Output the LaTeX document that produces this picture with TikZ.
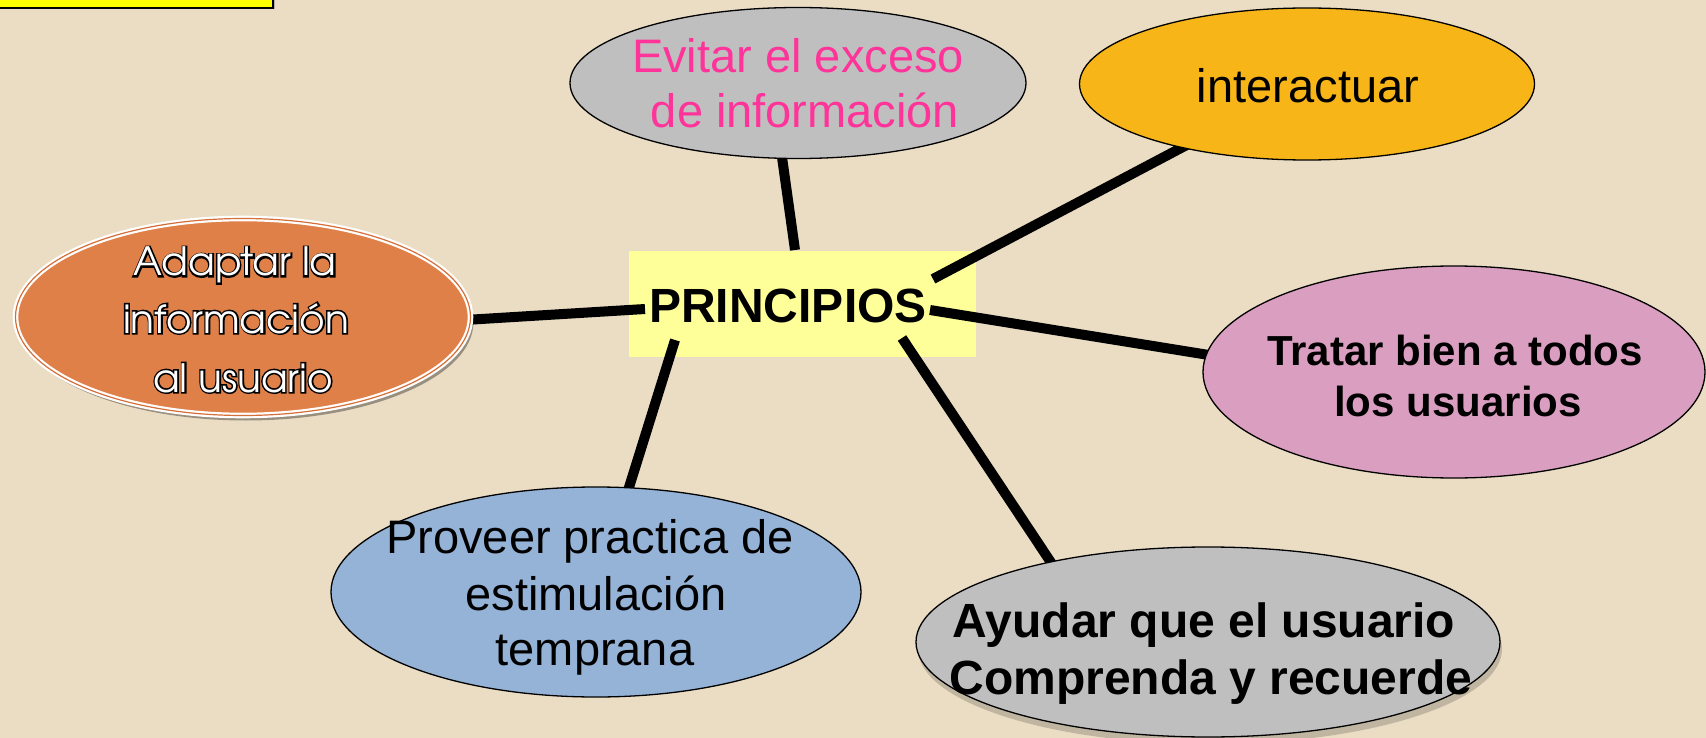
\documentclass[tikz,border=0pt]{standalone}
\usepackage{fontspec}
\setmainfont{Liberation Sans}
\newfontfamily\advfont{TeX Gyre Adventor}
\usetikzlibrary{shapes.geometric,shadows}
\definecolor{bg}{RGB}{234,221,196}
\definecolor{evgray}{RGB}{191,191,191}
\definecolor{evpink}{RGB}{255,51,153}
\definecolor{intorange}{RGB}{247,181,24}
\definecolor{adorange}{RGB}{223,128,72}
\definecolor{adline}{RGB}{214,110,55}
\definecolor{boxyellow}{RGB}{255,255,153}
\definecolor{trpink}{RGB}{218,159,192}
\definecolor{prblue}{RGB}{149,179,215}
\definecolor{topyellow}{RGB}{255,255,0}
\newcommand\outltext[1]{\rlap{\special{pdf:literal direct 1 Tr 3 w 0 0 0 RG}#1\special{pdf:literal direct 0 Tr}}#1}
\begin{document}
\begin{tikzpicture}[x=1pt,y=-1pt,
  bubble/.style={ellipse, draw=black, line width=1.3pt, inner sep=0pt},
  conn/.style={line width=10pt, black},
  lbl/.style={anchor=base, inner sep=0pt, font=\fontsize{47}{47}\selectfont},
  blbl/.style={anchor=base, inner sep=0pt, font=\fontsize{48}{48}\selectfont\bfseries},
  tlbl/.style={anchor=base, inner sep=0pt, font=\fontsize{42}{42}\selectfont\bfseries},
  adl/.style={anchor=base, inner sep=0pt, text=white, font=\advfont\fontsize{39}{39}\selectfont}]
\useasboundingbox (0,0) rectangle (1706,738);
\clip (0,0) rectangle (1706,738);
\fill[bg] (0,0) rectangle (1706,738);

% top-left yellow box
\node[draw=black, line width=1.5pt, fill=topyellow, minimum width=280pt, minimum height=60pt, inner sep=0pt,
      drop shadow={shadow xshift=1.5pt, shadow yshift=-1.5pt, opacity=0.5}] (topbox) at (133,-22) {};

% central box
\node[fill=boxyellow, minimum width=347pt, minimum height=106pt, inner sep=0pt] (princ) at (802.5,304) {};

% connector end coordinates
\coordinate (cE1) at (795,250);
\coordinate (cE2) at (781,150);
\coordinate (cI1) at (933,279);
\coordinate (cI2) at (1200,138);
\coordinate (cA1) at (645,309);
\coordinate (cA2) at (465,320);
\coordinate (cT1) at (930,310);
\coordinate (cT2) at (1215,356);
\coordinate (cP1) at (675,340);
\coordinate (cP2) at (626,497);
\coordinate (cY1) at (902,338);
\coordinate (cY2) at (1058,573);
\draw[conn] (cE1) -- (cE2);
\draw[conn] (cI1) -- (cI2);
\draw[conn] (cA1) -- (cA2);
\draw[conn] (cT1) -- (cT2);
\draw[conn] (cP1) -- (cP2);
\draw[conn] (cY1) -- (cY2);

% bubbles
\node[bubble, fill=evgray, minimum width=456pt, minimum height=151pt] (evitar) at (798,83) {};
\node[bubble, fill=intorange, minimum width=455pt, minimum height=152pt] (inter) at (1307,84) {};
\node[ellipse, inner sep=0pt, fill=adorange, draw=white, line width=2.2pt, double=adline, double distance=1.2pt,
      minimum width=455pt, minimum height=197pt,
      drop shadow={shadow xshift=3pt, shadow yshift=-5pt, opacity=0.35, fill=black}] (adapt) at (243,317) {};
\node[bubble, fill=trpink, minimum width=502pt, minimum height=212pt] (tratar) at (1454,372) {};
\node[bubble, fill=prblue, minimum width=530pt, minimum height=210pt] (prov) at (596,592) {};
\node[bubble, fill=evgray, minimum width=584pt, minimum height=190pt,
      drop shadow={shadow xshift=2pt, shadow yshift=-7pt, opacity=0.18, fill=black}] (ayud) at (1208,642) {};

% texts
\node[lbl, text=evpink] (evT1) at (798,73) {Evitar el exceso};
\node[lbl, text=evpink] (evT2) at (805,128) {de información};
\node[lbl] (inT) at (1308,103) {interactuar};
\node[blbl] (prT) at (788,322) {PRINCIPIOS};
\node[tlbl] (trT1) at (1455,365) {Tratar bien a todos};
\node[tlbl] (trT2) at (1458,416) {los usuarios};
\node[lbl] (pvT1) at (590,553) {Proveer practica de};
\node[lbl] (pvT2) at (596,610) {estimulación};
\node[lbl] (pvT3) at (595,665) {temprana};
\node[blbl] (ayT1) at (1204,637) {Ayudar que el usuario};
\node[blbl] (ayT2) at (1211,694) {Comprenda y recuerde};

% outlined text
\node[adl] (adT1) at (235,276) {\outltext{Adaptar la}};
\node[adl] (adT2) at (236,333) {\outltext{información}};
\node[adl] (adT3) at (243,392) {\outltext{al usuario}};
\end{tikzpicture}
\end{document}
